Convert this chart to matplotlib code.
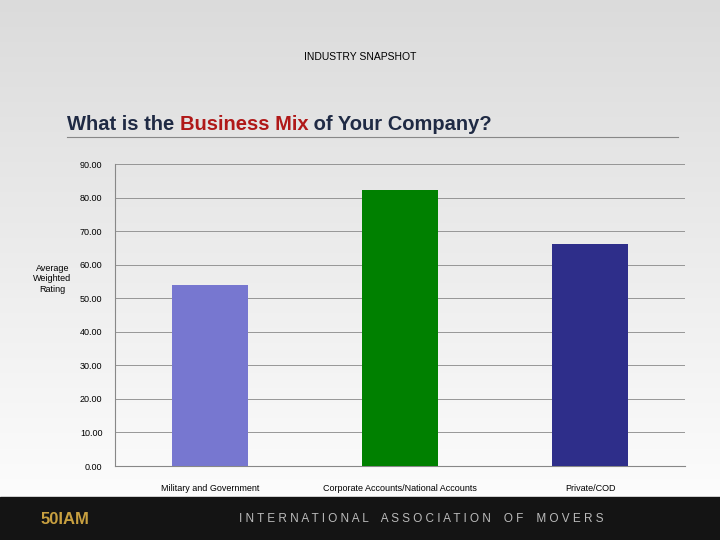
import matplotlib
matplotlib.use("Agg")
import matplotlib.pyplot as plt
import numpy as np

plt.rcParams['font.family'] = ['Liberation Sans', 'DejaVu Sans']

categories = ["Military and Government", "Corporate Accounts/National Accounts", "Private/COD"]
values = [53.9, 82.2, 66.2]
colors = ["#7777d0", "#008000", "#2e2e8a"]
yticks = np.arange(0, 91, 10)

fig = plt.figure(figsize=(7.2, 5.4), dpi=100)
bg = fig.add_axes([0, 0, 1, 1], zorder=-10)
grad = np.linspace(0.86, 1.0, 256).reshape(-1, 1)
bg.imshow(np.dstack([grad, grad, grad]), aspect="auto", extent=[0, 1, 0, 1], origin="upper")
bg.set_xlim(0, 1); bg.set_ylim(0, 1); bg.axis("off")
bg.add_patch(plt.Rectangle((0, 0), 1, 43/540, color="#141414"))
bg.text(0.585, 21/540, "I N T E R N A T I O N A L    A S S O C I A T I O N    O F    M O V E R S",
        color="#bbbbbb", fontsize=8.5, ha="center", va="center")
bg.text(0.09, 21/540, "50IAM", color="#c8a040", fontsize=12, fontweight="bold", ha="center", va="center")
bg.plot([67/720, 678/720], [1-137/540, 1-137/540], color="#888888", lw=0.8)

fig.text(0.5, 1-57/540, "INDUSTRY SNAPSHOT", ha="center", va="center", fontsize=7.5)
fs = 14.5
t1 = fig.text(67/720, 1-124/540, "What is the ", fontsize=fs, fontweight="bold", color="#1f2a44", va="center")
fig.canvas.draw()
r = fig.canvas.get_renderer()
bb = t1.get_window_extent(r)
t2 = fig.text(bb.x1/720, 1-124/540, "Business Mix", fontsize=fs, fontweight="bold", color="#b01818", va="center")
bb2 = t2.get_window_extent(r)
fig.text(bb2.x1/720, 1-124/540, " of Your Company?", fontsize=fs, fontweight="bold", color="#1f2a44", va="center")

ax = fig.add_axes([115/720, 1-466/540, 570/720, 302/540])
ax.set_facecolor("none")
x = np.arange(len(categories))
ax.bar(x, values, width=0.4, color=colors, zorder=3)
ax.set_xlim(-0.5, 2.5)
ax.set_ylim(0, 90)
ax.set_yticks(yticks)
ax.set_yticklabels([f"{v:.2f}" for v in yticks], fontsize=6.5)
ax.set_xticks(x)
ax.set_xticklabels(categories, fontsize=6.5)
ax.yaxis.grid(True, color="#888888", lw=0.6, zorder=0)
for s in ["top", "right"]:
    ax.spines[s].set_visible(False)
ax.spines["left"].set_color("#888888")
ax.spines["bottom"].set_color("#888888")
ax.tick_params(axis="x", length=0, pad=13)
ax.tick_params(axis="y", length=0, pad=9)
ax.set_ylabel("Average\nWeighted\nRating", rotation=0, fontsize=6.5, ha="center", va="center")
ax.yaxis.set_label_coords(-0.11, 0.62)
fig.savefig("out.png", dpi=100)
